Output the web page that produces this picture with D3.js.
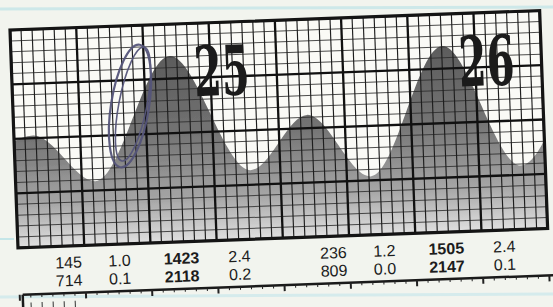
<!DOCTYPE html>
<html><head><meta charset="utf-8">
<script src="https://cdn.jsdelivr.net/npm/d3@7"></script>
<style>html,body{margin:0;padding:0;background:#f2f4ee;overflow:hidden}svg{display:block}</style>
</head><body>
<script>
// ---- data ----
const days = ["25", "26"];
const tideClock  = ["145", "714", "1423", "2118", "236", "809", "1505", "2147"];
const tideHeight = [1.0, 0.1, 2.4, 0.2, 1.2, 0.0, 2.4, 0.1];
const tideDay    = [0, 0, 0, 0, 1, 1, 1, 1];
// extremes just outside the two days, estimated from the curve at the chart edges
const edgeClock  = ["1930", "215"];
const edgeHeight = [0.1, 1.6];
const edgeDay    = [-1, 2];

const WIDTH = 553, HEIGHT = 307;
const W = 530, H = 218;

function hours(clock, day) {
  const n = +clock;
  return day * 24 + Math.floor(n / 100) + (n % 100) / 60;
}

const tides = tideClock.map((c, i) => ({clock: c, t: hours(c, tideDay[i]), h: tideHeight[i], day: tideDay[i]}));
const edges = edgeClock.map((c, i) => ({t: hours(c, edgeDay[i]), h: edgeHeight[i]}));
const curvePts = tides.concat(edges).sort((a, b) => a.t - b.t);

const x = d3.scaleLinear().domain([0, 48]).range([0, W]);
const y = d3.scaleLinear().domain([-1.1, 3.0]).range([H, 0]);

const svg = d3.select("body").append("svg").attr("width", WIDTH).attr("height", HEIGHT);
const defs = svg.append("defs");
const grad = defs.append("linearGradient").attr("id", "fillg")
  .attr("gradientUnits", "userSpaceOnUse").attr("x1", 0).attr("y1", 0).attr("x2", 0).attr("y2", H);
[[0, "#525252"], [0.5, "#747474"], [0.8, "#a6a6a6"], [1, "#e0e0e0"]].forEach(s =>
  grad.append("stop").attr("offset", s[0]).attr("stop-color", s[1]));
defs.append("clipPath").attr("id", "plotclip").append("rect").attr("width", W).attr("height", H);

// notebook page lines
svg.append("line").attr("x1", 0).attr("x2", WIDTH).attr("y1", 9).attr("y2", 7)
  .attr("stroke", "#c5e6e8").attr("stroke-width", 3).attr("opacity", 0.8);
svg.append("line").attr("x1", 0).attr("x2", WIDTH).attr("y1", 297).attr("y2", 294)
  .attr("stroke", "#cfeaec").attr("stroke-width", 3).attr("opacity", 0.8);
svg.append("line").attr("x1", 0).attr("x2", 14).attr("y1", 239).attr("y2", 239)
  .attr("stroke", "#c5e6e8").attr("stroke-width", 2);

const g = svg.append("g").attr("transform", "translate(10,30) rotate(-2.1)");

// chart background
g.append("rect").attr("width", W).attr("height", H).attr("fill", "#fafaf6");

const plot = g.append("g").attr("clip-path", "url(#plotclip)");
const area = d3.area().x(d => x(d.t)).y0(H).y1(d => y(d.h)).curve(d3.curveMonotoneX);
plot.append("path").datum(curvePts).attr("d", area).attr("fill", "url(#fillg)");

// grid
const hourTicks = d3.range(0, 49);
const rowLines = d3.range(0, 21).map(i => i * H / 20);
plot.selectAll("line.hminor").data(rowLines.filter((d, i) => i % 5)).join("line")
  .attr("x1", 0).attr("x2", W).attr("y1", d => d).attr("y2", d => d)
  .attr("stroke", "#2e2e2e").attr("stroke-width", 1).attr("opacity", 0.85);
plot.selectAll("line.vminor").data(hourTicks.filter(h => h % 6)).join("line")
  .attr("x1", d => x(d)).attr("x2", d => x(d)).attr("y1", 0).attr("y2", H)
  .attr("stroke", "#1e1e1e").attr("stroke-width", 1.15);
plot.selectAll("line.hmajor").data(rowLines.filter((d, i) => i % 5 === 0)).join("line")
  .attr("x1", 0).attr("x2", W).attr("y1", d => d).attr("y2", d => d)
  .attr("stroke", "#111").attr("stroke-width", 2.3);
plot.selectAll("line.vmajor").data(hourTicks.filter(h => h % 6 === 0)).join("line")
  .attr("x1", d => x(d)).attr("x2", d => x(d)).attr("y1", 0).attr("y2", H)
  .attr("stroke", "#111").attr("stroke-width", 2.3);
g.append("rect").attr("width", W).attr("height", H).attr("fill", "none")
  .attr("stroke", "#141414").attr("stroke-width", 3.2);

// day numbers (condensed bold serif)
g.selectAll("text.day").data(days).join("text")
  .attr("transform", (d, i) => `translate(${x(i * 24 + 16.5)},73) scale(0.58,1)`)
  .attr("font-family", "'DejaVu Serif', 'Liberation Serif', serif").attr("font-weight", "bold")
  .attr("font-size", 69).attr("fill", "#1b1b1b")
  .text(d => d);

// tide table
const colOffset = [50, 101, 163, 221];
const rowBase = [240, 258];
const fmt = d3.format(".1f");
const cells = [];
days.forEach((dl, d) => {
  const dt = tides.filter(t => t.day === d);
  [0, 1].forEach(r => {
    [dt[r], dt[r + 2]].forEach((td, k) => {
      cells.push({x: x(d * 24) + colOffset[k * 2], y: rowBase[r], text: td.clock, bold: +td.clock >= 1200});
      cells.push({x: x(d * 24) + colOffset[k * 2 + 1], y: rowBase[r], text: fmt(td.h), bold: false});
    });
  });
});
g.selectAll("text.cell").data(cells).join("text")
  .attr("x", d => d.x).attr("y", d => d.y).attr("text-anchor", "middle")
  .attr("font-family", "'Liberation Sans', Arial, sans-serif").attr("font-size", 16)
  .attr("font-weight", d => d.bold ? "bold" : "normal").attr("fill", "#1c1c1c")
  .text(d => d.text);

// top edge of the next chart strip
const nextTop = 265;
g.append("line").attr("x1", 3).attr("x2", W + 30).attr("y1", nextTop).attr("y2", nextTop)
  .attr("stroke", "#1a1a1a").attr("stroke-width", 2.5);
g.selectAll("line.tick").data(d3.range(0, 51)).join("line")
  .attr("x1", d => x(d)).attr("x2", d => x(d)).attr("y1", nextTop)
  .attr("y2", d => nextTop + (d % 6 === 0 ? 6 : 3))
  .attr("stroke", "#222").attr("stroke-width", d => d % 6 === 0 ? 2 : 1);
g.append("line").attr("x1", 3).attr("x2", 3).attr("y1", nextTop).attr("y2", nextTop + 40)
  .attr("stroke", "#1a1a1a").attr("stroke-width", 2.5);
g.selectAll("line.ltick").data(d3.range(1, 6)).join("line")
  .attr("x1", d => x(d)).attr("x2", d => x(d)).attr("y1", nextTop + 8).attr("y2", nextTop + 40)
  .attr("stroke", "#333").attr("stroke-width", 1);

// pen mark (hand-drawn oval)
const pen = svg.append("g").attr("fill", "none").attr("stroke", "#55557a").attr("opacity", 0.95);
pen.append("ellipse").attr("cx", 130).attr("cy", 106).attr("rx", 19).attr("ry", 62)
  .attr("transform", "rotate(9,130,106)").attr("stroke-width", 2.2);
pen.append("ellipse").attr("cx", 133).attr("cy", 104).attr("rx", 14).attr("ry", 58)
  .attr("transform", "rotate(11,133,104)").attr("stroke-width", 1.6);
</script>
</body></html>
